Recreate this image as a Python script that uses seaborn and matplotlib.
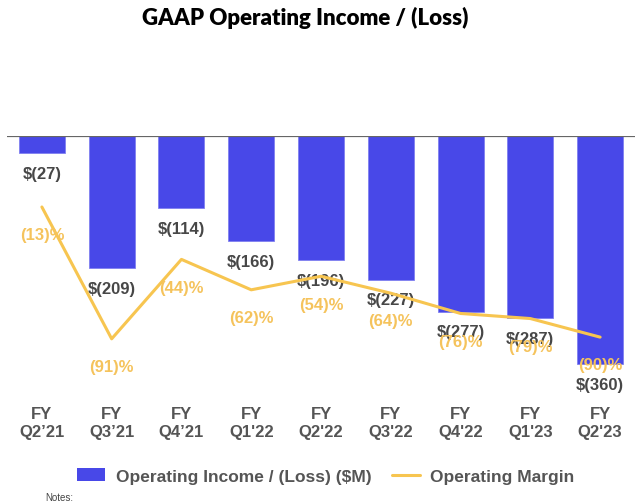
import numpy as np
import pandas as pd
import seaborn as sns
import matplotlib.pyplot as plt
from matplotlib.patches import Patch
from matplotlib.lines import Line2D

sns.set_theme(style="white")
plt.rcParams['font.family'] = ['Liberation Sans', 'DejaVu Sans']

# data
quarters = ["FY\nQ2\u201921", "FY\nQ3\u201921", "FY\nQ4\u201921", "FY\nQ1'22", "FY\nQ2'22",
            "FY\nQ3'22", "FY\nQ4'22", "FY\nQ1'23", "FY\nQ2'23"]
op_income = [-27, -209, -114, -166, -196, -227, -277, -287, -360]
op_margin = [-13, -91, -44, -62, -54, -64, -76, -79, -90]

bar_color = '#4848E8'
line_color = '#F7C550'
label_grey = '#474747'

df = pd.DataFrame({'quarter': quarters, 'income': op_income, 'margin': op_margin})

fig = plt.figure(figsize=(6.4, 5.02), dpi=100)
ax = fig.add_axes([7 / 640, 1 - 400 / 502, 628 / 640, 263 / 502])

sns.barplot(data=df, x='quarter', y='income', color=bar_color, width=0.66,
            saturation=1, edgecolor='#8080f0', linewidth=0.6, ax=ax)
ax.set_ylim(-415, 0)
ax.set_xlim(-0.5, len(quarters) - 0.5)
ax.axhline(0, color='#666666', lw=1.6, zorder=5)

for i, v in enumerate(op_income):
    ax.annotate(f"$({-v})", (i, v), xytext=(0, -14.5), textcoords='offset points',
                ha='center', va='center', fontsize=12, fontweight='bold',
                color=label_grey, zorder=6)

ax2 = ax.twinx()
sns.lineplot(x=np.arange(len(quarters)), y=op_margin, color=line_color, lw=2.2, ax=ax2)
ax2.set_ylim(-126.6, 29)
for i, v in enumerate(op_margin):
    ax2.annotate(f"({-v})%", (i, v), xytext=(0, -20), textcoords='offset points',
                 ha='center', va='center', fontsize=12, fontweight='bold',
                 color='#F5C35C', zorder=6)

for a in (ax, ax2):
    for s in a.spines.values():
        s.set_visible(False)
    a.set_yticks([])
    a.set_ylabel('')
ax.set_xlabel('')
ax.tick_params(axis='x', length=0, pad=5)
ax.set_xticks(range(len(quarters)))
ax.set_xticklabels(quarters, fontsize=12, fontweight='bold', color='#555555', linespacing=1.25)

fig.text(305 / 640, 1 - 18 / 502, "GAAP Operating Income / (Loss)", ha='center', va='center',
         fontsize=16, fontweight='heavy', color='black', family=['Lato', 'DejaVu Sans'])

handles = [Patch(facecolor=bar_color, edgecolor='none'),
           Line2D([0], [0], color=line_color, lw=2.2)]
fig.legend(handles, ["Operating Income / (Loss) ($M)", "Operating Margin"],
           loc='center', bbox_to_anchor=(326 / 640, 1 - 477 / 502), ncol=2, frameon=False,
           prop={'size': 12.5, 'weight': 'bold'}, labelcolor='#555555',
           handlelength=1.6, columnspacing=1.2, handletextpad=0.6)

fig.text(45 / 640, 1 - 498 / 502, "Notes:", ha='left', va='center', fontsize=7, color='#444444')

fig.savefig('out.png', dpi=100)
